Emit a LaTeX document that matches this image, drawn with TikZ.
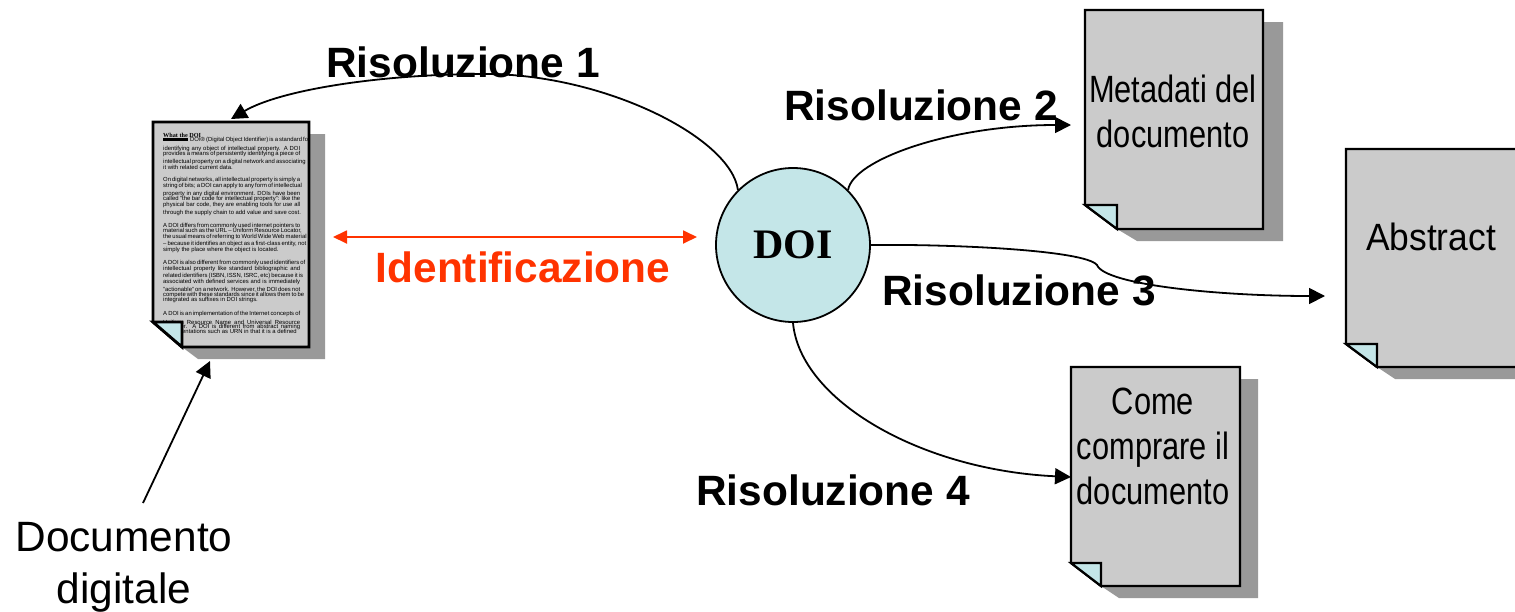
\documentclass[tikz,border=0pt]{standalone}
\usepackage{fontspec}
\setmainfont{Liberation Sans}
\newfontfamily\serifdoi{Liberation Serif}
\usetikzlibrary{arrows.meta}
\definecolor{pagegray}{HTML}{CBCBCB}
\definecolor{shadowgray}{HTML}{999999}
\definecolor{foldblue}{HTML}{C4E6E8}
\definecolor{doired}{HTML}{FF3300}
\newcommand{\docshape}[8]{% name, x1,y1,x2,y2, foldx, foldy, shadow dx
  \pgfmathsetmacro{\sxa}{#6+#8}\pgfmathsetmacro{\sxb}{#4+#8}
  \pgfmathsetmacro{\sya}{#5+12}\pgfmathsetmacro{\syb}{#3+12}
  \fill[shadowgray] (#6,#5) -- (\sxa,\sya) -- (\sxb,\sya) -- (\sxb,\syb) -- (#4,\syb) -- (#4,#5) -- cycle;
  \draw[docline,fill=pagegray] (#2,#3) -- (#4,#3) -- (#4,#5) -- (#6,#5) -- (#2,#7) -- cycle;
  \draw[docline,fill=foldblue] (#2,#7) -- (#6,#7) -- (#6,#5) -- cycle;
  \coordinate (#1) at (#2,#3);
}
\newcommand{\ml}[2]{\node[minitext] at (163,#1) {\makebox[137pt][s]{#2}};}
\newcommand{\mr}[2]{\node[minitext] at (163,#1) {#2};}
\tikzset{
  docline/.style={draw=black,line width=2.2pt,line join=miter},
  biglabel/.style={font=\fontsize{42.4}{42.4}\selectfont\bfseries,inner sep=0pt},
  doclabel/.style={font=\fontsize{38}{45}\selectfont,inner sep=0pt,align=center,xscale=.81},
  minitext/.style={font=\fontsize{5.9}{5.9}\selectfont,inner sep=0pt,anchor=west},
  conn/.style={line width=1.8pt,-{Triangle[length=16pt,width=16pt]}},
}
\begin{document}
\begin{tikzpicture}[x=1pt,y=-1pt]
\useasboundingbox (0,0) rectangle (1515,611);
\clip (0,0) rectangle (1515,611);

% left document
\fill[shadowgray] (182,347) -- (198,359) -- (325,359) -- (325,134) -- (309,134) -- (309,347) -- cycle;
\draw[docline,line width=2.8pt,fill=pagegray] (153,122) -- (309,122) -- (309,347) -- (182,347) -- (153,322) -- cycle;
\coordinate (docleft) at (153,122);
\node[font=\serifdoi\fontsize{6.2}{6.2}\selectfont\bfseries,inner sep=0pt,anchor=west] (doititle) at (163,135) {What the DOI};
\fill[black] (163,137.5) rectangle (188,140.5);
\node[minitext,anchor=west] at (190,140) {\makebox[110pt][s]{DOI\textregistered{} (Digital Object Identifier) is a standard for}};
\ml{149}{identifying any object of intellectual property. A DOI}
\ml{154}{provides a means of persistently identifying a piece of}
\ml{162}{intellectual property on a digital network and associating}
\mr{167}{it with related current data.}
\ml{180}{On digital networks, all intellectual property is simply a}
\ml{186}{string of bits; a DOI can apply to any form of intellectual}
\ml{194}{property in any digital environment. DOIs have been}
\ml{199}{called "the bar code for intellectual property": like the}
\ml{205}{physical bar code, they are enabling tools for use all}
\mr{213}{through the supply chain to add value and save cost.}
\ml{226}{A DOI differs from commonly used internet pointers to}
\ml{231}{material such as the URL -- Uniform Resource Locator,}
\ml{237}{the usual means of referring to World Wide Web material}
\ml{244}{-- because it identifies an object as a first-class entity, not}
\mr{250}{simply the place where the object is located.}
\ml{263}{A DOI is also different from commonly used identifiers of}
\ml{269}{intellectual property like standard bibliographic and}
\ml{276}{related identifiers (ISBN, ISSN, ISRC, etc) because it is}
\ml{282}{associated with defined services and is immediately}
\ml{290}{"actionable" on a network. However, the DOI does not}
\ml{295}{compete with these standards since it allows them to be}
\mr{300}{integrated as suffixes in DOI strings.}
\ml{314}{A DOI is an implementation of the Internet concepts of}
\ml{322}{Uniform Resource Name and Universal Resource}
\ml{327}{Identifier. A DOI is different from abstract naming}
\mr{332}{implementations such as URN in that it is a defined}
\draw[docline,line width=2.8pt,fill=foldblue] (153,322) -- (182,322) -- (182,347) -- cycle;

% right documents
\docshape{docmeta}{1085}{10}{1263}{229}{1117}{205}{20}
\docshape{docabs}{1346}{149}{1560}{367}{1377}{344}{18}
\docshape{docbuy}{1071}{367}{1240}{586}{1101}{563}{18}

\node[doclabel] (lmeta) at (1173,111.5) {Metadati del\\documento};
\node[doclabel,xscale=1.15] (labs) at (1431,237) {Abstract};
\node[doclabel] (lbuy) at (1153,446) {Come\\comprare il\\documento};

% DOI circle
\node[circle,draw=black,line width=1.8pt,fill=foldblue,minimum size=154pt,inner sep=0pt,
      font=\serifdoi\fontsize{42}{42}\selectfont\bfseries] (doi) at (793,245) {DOI};

% end points of the connectors
\coordinate (r1mid) at (485,74);
\coordinate (r1end) at (231,119);
\coordinate (r2end) at (1071,125);
\coordinate (r3mid) at (1097,265);
\coordinate (r3end) at (1325,296);
\coordinate (r4end) at (1071,477);
\coordinate (idl) at (333,237);
\coordinate (idr) at (697,237);
\coordinate (ddstart) at (143,503);
\coordinate (ddend) at (210,361);

\draw[conn] (doi.135) .. controls (731,138) and (605,74) .. (r1mid)
   .. controls (380,74) and (280,90) .. (r1end);
\draw[conn] (doi.45) .. controls (853,160) and (950,125) .. (r2end);
\draw[conn] (doi.0) .. controls (950,244) and (1085,250) .. (r3mid)
   .. controls (1105,285) and (1220,296) .. (r3end);
\draw[conn] (doi.south) .. controls (800,400) and (920,470) .. (r4end);
\draw[doired,line width=1.8pt,{Triangle[length=14pt,width=13pt]}-{Triangle[length=14pt,width=13pt]}] (idl) -- (idr);
\draw[conn] (ddstart) -- (ddend);

% labels
\node[biglabel] (r1) at (463,62) {Risoluzione 1};
\node[biglabel] (r2) at (921,105) {Risoluzione 2};
\node[biglabel] (r3) at (1019,290) {Risoluzione 3};
\node[biglabel] (r4) at (833,490) {Risoluzione 4};
\node[biglabel,text=doired] (ident) at (523,267) {Identificazione};
\node[font=\fontsize{42.4}{52}\selectfont,inner sep=0pt,align=center] (dd) at (124,567) {Documento\\digitale};
\end{tikzpicture}
\end{document}
